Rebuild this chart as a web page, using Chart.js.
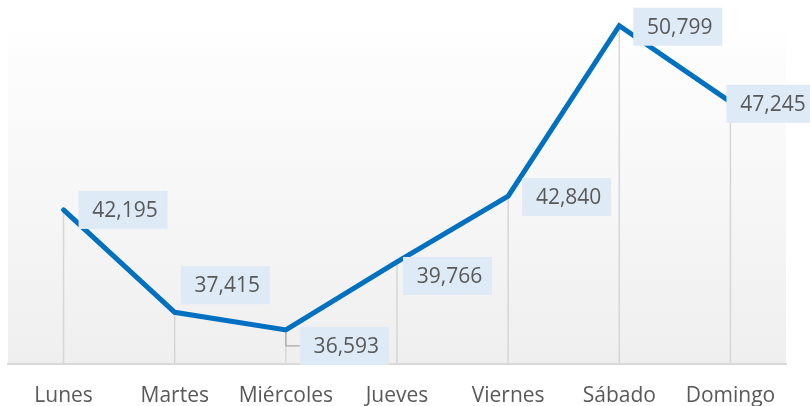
<!DOCTYPE html>
<html>
<head>
<meta charset="utf-8">
<script src="https://cdn.jsdelivr.net/npm/chart.js@4.4.1/dist/chart.umd.min.js"></script>
<style>
  html, body { margin: 0; padding: 0; background: #ffffff; }
  canvas { display: block; }
</style>
</head>
<body>
<canvas id="c" width="810" height="406"></canvas>
<script>
const categories = ['Lunes', 'Martes', 'Miércoles', 'Jueves', 'Viernes', 'Sábado', 'Domingo'];
const visitas = [42195, 37415, 36593, 39766, 42840, 50799, 47245];
const yMin = 35000;
const yMax = 52000;

// label placement rules: [dx of box left from point, dy of box centre from point]
const labelPlacement = [[15, 0], [6, -27], [14, 16], [6, 14], [14, 1], [14, 1], [-4, 2]];

const bgPlugin = {
  id: 'bg',
  beforeDraw(chart) {
    const { ctx, chartArea: a } = chart;
    const top = a.top + 32;
    const g = ctx.createLinearGradient(0, top, 0, a.bottom);
    g.addColorStop(0, '#fefefe');
    g.addColorStop(1, '#efefef');
    ctx.save();
    ctx.fillStyle = g;
    ctx.fillRect(a.left, top, a.right - a.left, a.bottom - top);
    ctx.restore();
  }
};

const dropPlugin = {
  id: 'drop',
  beforeDatasetsDraw(chart) {
    const { ctx, chartArea: a } = chart;
    const meta = chart.getDatasetMeta(0);
    ctx.save();
    ctx.strokeStyle = '#d6d6d6';
    ctx.lineWidth = 1.5;
    meta.data.forEach(p => {
      ctx.beginPath();
      ctx.moveTo(p.x, p.y);
      ctx.lineTo(p.x, a.bottom);
      ctx.stroke();
    });
    ctx.restore();
  }
};

const labelPlugin = {
  id: 'labels',
  afterDatasetsDraw(chart) {
    const { ctx } = chart;
    const meta = chart.getDatasetMeta(0);
    const data = chart.data.datasets[0].data;
    const w = 89, h = 38;
    ctx.save();
    ctx.font = '21px "Open Sans"';
    ctx.textBaseline = 'middle';
    ctx.textAlign = 'center';
    meta.data.forEach((p, i) => {
      const [dx, dy] = labelPlacement[i];
      const left = p.x + dx;
      const cy = p.y + dy;
      if (i === 2) {
        ctx.strokeStyle = '#a6a6a6';
        ctx.lineWidth = 1.2;
        ctx.beginPath();
        ctx.moveTo(p.x, p.y + 2);
        ctx.lineTo(p.x, cy);
        ctx.lineTo(left, cy);
        ctx.stroke();
      }
      ctx.fillStyle = '#deebf7';
      ctx.fillRect(left, cy - h / 2, w, h);
      ctx.fillStyle = '#595959';
      ctx.fillText(data[i].toLocaleString('en-US'), left + w / 2 + 2, cy + 1);
    });
    ctx.restore();
  }
};

new Chart(document.getElementById('c'), {
  type: 'line',
  data: {
    labels: categories,
    datasets: [{
      data: visitas,
      borderColor: '#0070c0',
      borderWidth: 5,
      borderJoinStyle: 'miter',
      borderCapStyle: 'round',
      pointRadius: 0,
      pointHoverRadius: 0,
      tension: 0,
      fill: false,
      clip: false
    }]
  },
  options: {
    responsive: false,
    animation: false,
    events: [],
    layout: { padding: { left: 8, right: 24, top: 0, bottom: 0 } },
    plugins: { legend: { display: false }, tooltip: { enabled: false }, title: { display: false } },
    scales: {
      x: {
        offset: true,
        grid: { display: false, drawTicks: false, tickLength: 0 },
        border: { display: true, color: '#d9d9d9', width: 2 },
        ticks: {
          font: { family: 'Open Sans', size: 21 },
          color: '#595959',
          padding: 19,
          maxRotation: 0,
          autoSkip: false
        },
        afterFit(s) { s.height = 42; }
      },
      y: { display: false, min: yMin, max: yMax }
    }
  },
  plugins: [bgPlugin, dropPlugin, labelPlugin]
});
</script>
</body>
</html>
